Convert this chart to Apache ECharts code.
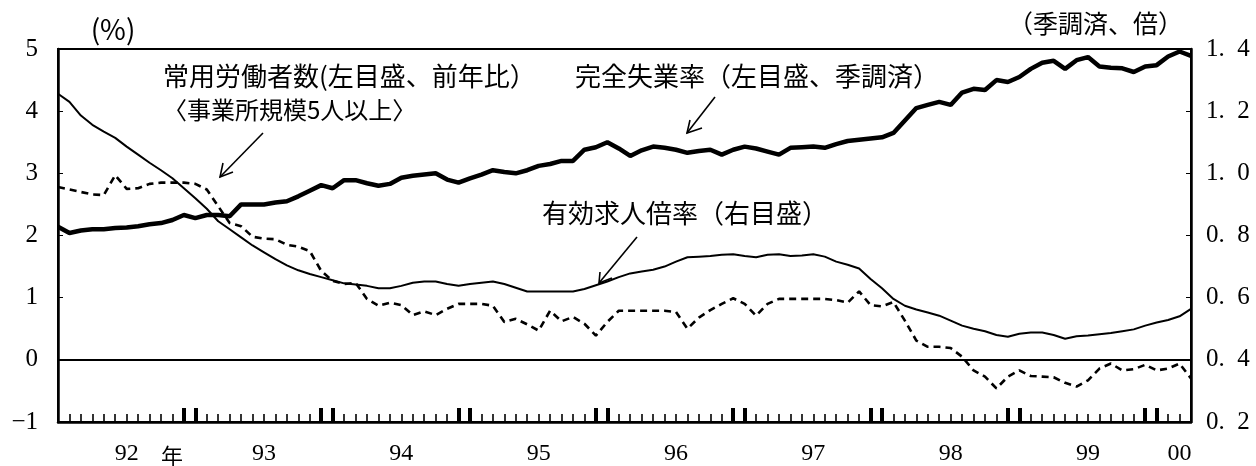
<!DOCTYPE html>
<html>
<head>
<meta charset="utf-8">
<script src="https://cdn.jsdelivr.net/npm/echarts@6/dist/echarts.min.js"></script>
<style>
  html, body { margin: 0; padding: 0; background: #fff; }
  #main { width: 1256px; height: 466px; }
</style>
</head>
<body>
<div id="main"></div>
<script>
// monthly categories, 1992-01 .. 2000-04
var months = [];
for (var y = 1992; y <= 2000; y++) {
    for (var m = 1; m <= 12; m++) {
        if (y === 2000 && m > 4) break;
        months.push(y + '-' + (m < 10 ? '0' + m : m));
    }
}

// 完全失業率 (%), left axis
var unemployment = [
    2.14, 2.04, 2.08, 2.10, 2.10, 2.12, 2.13, 2.15, 2.18, 2.20, 2.25, 2.33,
    2.28, 2.33, 2.33, 2.31, 2.50, 2.50, 2.50, 2.53, 2.55, 2.63, 2.72, 2.81,
    2.76, 2.89, 2.89, 2.84, 2.80, 2.83, 2.93, 2.96, 2.98, 3.00, 2.90, 2.85,
    2.92, 2.98, 3.05, 3.02, 3.00, 3.05, 3.12, 3.15, 3.20, 3.20, 3.38, 3.42,
    3.50, 3.40, 3.28, 3.37, 3.43, 3.41, 3.38, 3.33, 3.36, 3.38, 3.30, 3.38,
    3.43, 3.40, 3.35, 3.30, 3.41, 3.42, 3.43, 3.41, 3.47, 3.52, 3.54, 3.56,
    3.58, 3.65, 3.85, 4.05, 4.10, 4.15, 4.10, 4.30, 4.36, 4.34, 4.50, 4.47,
    4.55, 4.68, 4.78, 4.81, 4.68, 4.82, 4.87, 4.72, 4.70, 4.69, 4.63, 4.72,
    4.74, 4.88, 4.96, 4.89
];

// 有効求人倍率 (倍), right axis
var jobsRatio = [
    1.256, 1.230, 1.186, 1.156, 1.134, 1.114, 1.086, 1.060, 1.034, 1.010, 0.984, 0.952,
    0.920, 0.886, 0.846, 0.820, 0.794, 0.768, 0.746, 0.724, 0.704, 0.688, 0.676, 0.666,
    0.656, 0.646, 0.642, 0.638, 0.630, 0.630, 0.638, 0.648, 0.652, 0.652, 0.644, 0.638,
    0.644, 0.648, 0.652, 0.644, 0.632, 0.620, 0.620, 0.620, 0.620, 0.620, 0.628, 0.640,
    0.652, 0.666, 0.678, 0.684, 0.690, 0.700, 0.716, 0.730, 0.732, 0.734, 0.738, 0.740,
    0.734, 0.730, 0.738, 0.740, 0.734, 0.736, 0.740, 0.732, 0.716, 0.706, 0.694, 0.660,
    0.630, 0.596, 0.574, 0.562, 0.552, 0.542, 0.526, 0.510, 0.500, 0.492, 0.480, 0.474,
    0.484, 0.488, 0.488, 0.480, 0.468, 0.476, 0.478, 0.482, 0.486, 0.492, 0.498, 0.510,
    0.520, 0.528, 0.540, 0.564
];

// 常用労働者数 前年比 (%), left axis
var employees = [
    2.78, 2.74, 2.70, 2.66, 2.65, 2.97, 2.75, 2.76, 2.83, 2.85, 2.85, 2.85,
    2.83, 2.74, 2.47, 2.20, 2.15, 1.98, 1.95, 1.94, 1.85, 1.82, 1.75, 1.43,
    1.27, 1.22, 1.24, 0.98, 0.87, 0.92, 0.88, 0.72, 0.78, 0.72, 0.82, 0.90,
    0.90, 0.90, 0.87, 0.61, 0.66, 0.57, 0.47, 0.79, 0.62, 0.69, 0.58, 0.39,
    0.61, 0.79, 0.79, 0.79, 0.79, 0.79, 0.77, 0.50, 0.68, 0.80, 0.90, 0.99,
    0.90, 0.71, 0.90, 0.98, 0.98, 0.98, 0.98, 0.98, 0.96, 0.92, 1.10, 0.88,
    0.86, 0.93, 0.63, 0.31, 0.21, 0.21, 0.19, 0.05, -0.17, -0.27, -0.46, -0.27,
    -0.17, -0.26, -0.27, -0.28, -0.37, -0.43, -0.33, -0.14, -0.06, -0.17, -0.15, -0.08,
    -0.17, -0.14, -0.06, -0.30
];

var yearLabels = ['92', '93', '94', '95', '96', '97', '98', '99', '00'];
var yearLabelMonths = ['1992-07', '1993-07', '1994-07', '1995-07', '1996-07',
    '1997-07', '1998-07', '1999-07', '2000-03'];

var numFont = 'Liberation Serif';
var jpFont = 'Noto Sans CJK JP';

var myChart = echarts.init(document.getElementById('main'));

function txt(x, y, s, size, align) {
    return {
        type: 'text', x: x, y: y, silent: true,
        style: {
            text: s, fill: '#000', fontSize: size, fontFamily: jpFont,
            textAlign: align || 'left', textVerticalAlign: 'middle'
        }
    };
}
function arrow(x1, y1, x2, y2, w1, w2) {
    return {
        type: 'group', silent: true,
        children: [
            { type: 'line', shape: { x1: x1, y1: y1, x2: x2, y2: y2 }, style: { stroke: '#000', lineWidth: 1.6 } },
            { type: 'polyline', shape: { points: [w1, [x2, y2], w2] }, style: { stroke: '#000', lineWidth: 1.6, fill: null } }
        ]
    };
}

myChart.setOption({
    animation: false,
    backgroundColor: '#fff',
    grid: {
        left: 58, right: 65, top: 49, bottom: 42,
        show: true, borderColor: '#000', borderWidth: 2
    },
    xAxis: [
        {
            type: 'category',
            data: months,
            boundaryGap: false,
            axisLine: { onZero: false, lineStyle: { color: '#000', width: 2.5 } },
            axisTick: {
                inside: true, length: 8, interval: 0,
                lineStyle: { color: '#000', width: 1.6 }
            },
            axisLabel: {
                interval: function (idx, val) { return yearLabelMonths.indexOf(val) >= 0; },
                formatter: function (val) { return yearLabels[yearLabelMonths.indexOf(val)]; },
                margin: 20,
                color: '#000', fontFamily: numFont, fontSize: 24
            },
            splitLine: { show: false }
        },
        {
            // thick ticks at year ends (Dec / Jan)
            type: 'category',
            data: months,
            boundaryGap: false,
            position: 'bottom',
            axisLine: { show: false, onZero: false },
            axisTick: {
                inside: true, length: 14,
                interval: function (idx, val) {
                    var mm = val.slice(5);
                    return idx > 0 && (mm === '12' || mm === '01');
                },
                lineStyle: { color: '#000', width: 4 }
            },
            axisLabel: { show: false },
            splitLine: { show: false }
        }
    ],
    yAxis: [
        {
            type: 'value', min: -1, max: 5, interval: 1,
            axisLine: { show: true, lineStyle: { color: '#000', width: 2.5 } },
            axisTick: { show: true, inside: true, length: 5, lineStyle: { color: '#000', width: 1 } },
            axisLabel: {
                margin: 20, color: '#000', fontFamily: numFont, fontSize: 25,
                formatter: function (v) { return v < 0 ? '\u2212' + Math.abs(v) : String(v); }
            },
            splitLine: { show: false }
        },
        {
            type: 'value', min: 0.2, max: 1.4, interval: 0.2,
            position: 'right',
            axisLine: { show: true, lineStyle: { color: '#000', width: 2.5 } },
            axisTick: { show: true, inside: true, length: 5, lineStyle: { color: '#000', width: 1 } },
            axisLabel: {
                margin: 15, color: '#000', fontFamily: numFont, fontSize: 25,
                formatter: function (v) { return v.toFixed(1).replace('.', '.  '); }
            },
            splitLine: { show: false }
        }
    ],
    series: [
        {
            name: '常用労働者数',
            type: 'line',
            data: employees,
            yAxisIndex: 0,
            showSymbol: false,
            lineStyle: { color: '#000', width: 2.6, type: [7, 5] },
            z: 2,
            markLine: {
                silent: true, symbol: 'none', label: { show: false },
                lineStyle: { color: '#000', width: 2, type: 'solid' },
                data: [{ yAxis: 0 }]
            }
        },
        {
            name: '有効求人倍率',
            type: 'line',
            data: jobsRatio,
            yAxisIndex: 1,
            showSymbol: false,
            lineStyle: { color: '#000', width: 2 },
            z: 3
        },
        {
            name: '完全失業率',
            type: 'line',
            data: unemployment,
            yAxisIndex: 0,
            showSymbol: false,
            lineStyle: { color: '#000', width: 4.5 },
            z: 4
        }
    ],
    graphic: [
        txt(113, 29, '(%)', 28, 'center'),
        txt(1183, 23, '（季調済、倍）', 25, 'right'),
        txt(163, 76, '常用労働者数(左目盛、前年比）', 26),
        txt(163, 110, '〈事業所規模5人以上〉', 24),
        txt(575, 76, '完全失業率（左目盛、季調済）', 26),
        txt(542, 213, '有効求人倍率（右目盛）', 26),
        txt(172, 456, '年', 22, 'center'),
        arrow(263, 133, 220, 177, [223, 163], [233, 172]),
        arrow(715, 97, 687, 133, [690, 120], [702, 128]),
        arrow(637, 237, 599, 283, [600, 272], [612, 278])
    ]
});
window.addEventListener('resize', function () {
    myChart.resize();
});
</script>
</body>
</html>
